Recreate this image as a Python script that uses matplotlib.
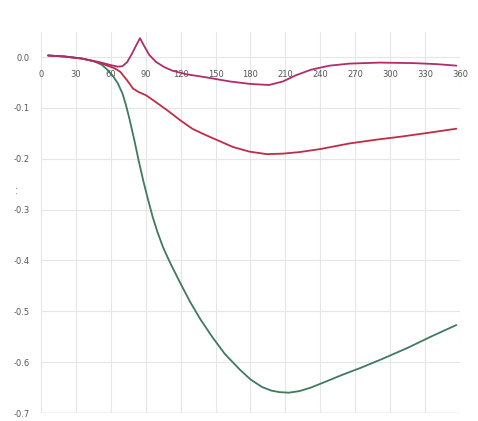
import matplotlib
matplotlib.use("Agg")
import matplotlib.pyplot as plt

# Data
magenta_x = [6, 20, 35, 50, 60, 66, 70, 74, 78, 82, 85, 89, 93, 99, 106, 113, 125, 142, 162, 180, 196, 208, 219, 232, 248, 265, 291, 320, 340, 357]
magenta_y = [0.003, 0.001, -0.003, -0.010, -0.016, -0.019, -0.018, -0.010, 0.006, 0.024, 0.037, 0.020, 0.004, -0.010, -0.020, -0.027, -0.034, -0.040, -0.048, -0.053, -0.055, -0.048, -0.036, -0.025, -0.017, -0.013, -0.011, -0.012, -0.014, -0.017]

red_x = [6, 20, 35, 50, 57, 63, 68, 74, 79, 84, 90, 97, 108, 120, 130, 140, 151, 165, 179, 194, 208, 222, 240, 265, 290, 308, 330, 357]
red_y = [0.003, 0.001, -0.003, -0.011, -0.017, -0.022, -0.029, -0.046, -0.062, -0.069, -0.075, -0.086, -0.104, -0.125, -0.141, -0.152, -0.163, -0.177, -0.186, -0.191, -0.190, -0.187, -0.181, -0.170, -0.162, -0.157, -0.150, -0.141]

green_x = [6, 20, 35, 45, 52, 57, 62, 66, 70, 73, 76, 80, 84, 88, 92, 96, 100, 105, 111, 120, 128, 137, 147, 158, 171, 180, 190, 198, 205, 213, 222, 232, 245, 260, 275, 293, 315, 335, 357]
green_y = [0.003, 0.001, -0.003, -0.008, -0.015, -0.025, -0.038, -0.052, -0.072, -0.095, -0.122, -0.162, -0.205, -0.245, -0.281, -0.315, -0.344, -0.375, -0.405, -0.446, -0.481, -0.516, -0.550, -0.584, -0.615, -0.634, -0.649, -0.656, -0.659, -0.660, -0.657, -0.650, -0.638, -0.624, -0.611, -0.594, -0.572, -0.550, -0.527]

x_ticks = [0, 30, 60, 90, 120, 150, 180, 210, 240, 270, 300, 330, 360]
y_ticks = [0.0, -0.1, -0.2, -0.3, -0.4, -0.5, -0.6, -0.7]
y_tick_labels = ["0.0", "-0.1", "-0.2", "-0.3", "-0.4", "-0.5", "-0.6", "-0.7"]

fig = plt.figure(figsize=(4.78, 4.21), dpi=100)
ax = fig.add_axes([0.086, 0.019, 0.876, 0.906])

ax.plot(green_x, green_y, color="#3f7a5e", lw=1.3, solid_capstyle="round", solid_joinstyle="round")
ax.plot(red_x, red_y, color="#c02c44", lw=1.3, solid_capstyle="round", solid_joinstyle="round")
ax.plot(magenta_x, magenta_y, color="#b02c6c", lw=1.3, solid_capstyle="round", solid_joinstyle="round")

ax.set_xlim(0, 360)
ax.set_ylim(-0.7, 0.05)
ax.set_xticks(x_ticks)
ax.set_yticks(y_ticks)
ax.set_yticklabels(y_tick_labels)

for s in ["top", "right", "left"]:
    ax.spines[s].set_visible(False)
ax.spines["bottom"].set_position(("data", 0))
ax.spines["bottom"].set_visible(False)

ax.grid(True, color="#e6e6e6", lw=0.8)
ax.axhline(-0.7, color="#c8c8c8", lw=1.0, zorder=0)
ax.tick_params(axis="both", length=0, labelsize=6, colors="#555555")
ax.tick_params(axis="x", pad=9)
ax.tick_params(axis="y", pad=8)

ax.set_ylabel(". .", fontsize=6, color="#555555")
ax.yaxis.set_label_coords(-0.05, 0.585)

fig.savefig("out.png", dpi=100, facecolor="white")
